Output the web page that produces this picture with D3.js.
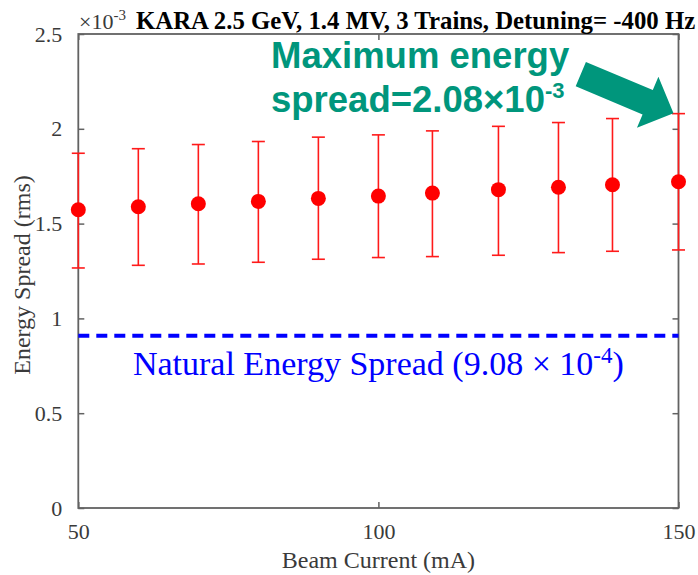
<!DOCTYPE html>
<html>
<head>
<meta charset="utf-8">
<script src="https://cdn.jsdelivr.net/npm/d3@7"></script>
<style>
  html, body { margin: 0; padding: 0; background: #fff; }
  svg { display: block; }
</style>
</head>
<body>
<script>
// Beam current scan (mA) and rms energy spread (units of 1e-3)
const currents   = [50, 60, 70, 80, 90, 100, 109, 120, 130, 139, 150];
const spreadMean = [1.573, 1.589, 1.605, 1.617, 1.633, 1.645, 1.661, 1.679, 1.692, 1.705, 1.721];
const spreadLow  = [1.266, 1.280, 1.287, 1.296, 1.312, 1.321, 1.326, 1.333, 1.347, 1.354, 1.361];
const spreadHigh = [1.871, 1.895, 1.917, 1.933, 1.956, 1.968, 1.989, 2.013, 2.033, 2.054, 2.08];
const naturalSpread = 0.908;
const xTicks = [50, 100, 150];
const yTicks = [0, 0.5, 1, 1.5, 2, 2.5];

const W = 698, H = 575;
const margin = { left: 78.3, right: W - 678.5, top: 34, bottom: H - 508 };

const svg = d3.select("body").append("svg")
  .attr("width", W).attr("height", H);

const x = d3.scaleLinear().domain([50, 150]).range([margin.left, W - margin.right]);
const y = d3.scaleLinear().domain([0, 2.5]).range([H - margin.bottom, margin.top]);

const serif = "'Liberation Serif', 'Times New Roman', serif";
const sans = "'Liberation Sans', Arial, sans-serif";
const axisColor = "#626262";
const labelColor = "#3a3a3a";
const tickLen = 6;

// Axes box with inward ticks on all four sides
const axG = svg.append("g");
function styleAxis(g) {
  g.select(".domain").remove();
  g.selectAll(".tick line").attr("stroke", axisColor).attr("stroke-width", 1.5);
  g.selectAll(".tick text").attr("fill", labelColor)
    .style("font-family", serif).style("font-size", "22px");
}
axG.append("g")
  .attr("transform", `translate(0,${y(0)})`)
  .call(d3.axisBottom(x).tickValues(xTicks).tickSize(-tickLen).tickPadding(15).tickFormat(d3.format("d")))
  .call(styleAxis);
axG.append("g")
  .attr("transform", `translate(0,${y(2.5)})`)
  .call(d3.axisTop(x).tickValues(xTicks).tickSize(-tickLen).tickFormat(""))
  .call(styleAxis);
axG.append("g")
  .attr("transform", `translate(${x(50)},0)`)
  .call(d3.axisLeft(y).tickValues(yTicks).tickSize(-tickLen).tickPadding(16).tickFormat(d => String(d)))
  .call(styleAxis);
axG.append("g")
  .attr("transform", `translate(${x(150)},0)`)
  .call(d3.axisRight(y).tickValues(yTicks).tickSize(-tickLen).tickFormat(""))
  .call(styleAxis);
axG.append("rect")
  .attr("x", x(50)).attr("y", y(2.5))
  .attr("width", x(150) - x(50)).attr("height", y(0) - y(2.5))
  .attr("fill", "none").attr("stroke", axisColor).attr("stroke-width", 1.8);

// Natural energy spread reference line
svg.append("line")
  .attr("x1", x(50)).attr("x2", x(150))
  .attr("y1", y(naturalSpread)).attr("y2", y(naturalSpread))
  .attr("stroke", "#0000ff").attr("stroke-width", 4)
  .attr("stroke-dasharray", "11,7");

const nat = svg.append("text")
  .attr("x", x(100)).attr("y", 375)
  .attr("text-anchor", "middle")
  .attr("fill", "#0000ff")
  .style("font-family", serif).style("font-size", "34px");
nat.append("tspan").text("Natural Energy Spread (9.08 \u00d7 10");
nat.append("tspan").attr("dy", -12).style("font-size", "23px").text("-4");
nat.append("tspan").attr("dy", 12).text(")");

// Error bars
const pts = currents.map((c, i) => ({ c, m: spreadMean[i], lo: spreadLow[i], hi: spreadHigh[i] }));
const capW = 6.5;
const eb = svg.append("g").attr("stroke", "#ff1a1a").attr("stroke-width", 1.6);
eb.selectAll("line.v").data(pts).join("line").attr("class", "v")
  .attr("x1", d => x(d.c)).attr("x2", d => x(d.c))
  .attr("y1", d => y(d.lo)).attr("y2", d => y(d.hi));
eb.selectAll("line.t").data(pts).join("line").attr("class", "t")
  .attr("x1", d => x(d.c) - capW).attr("x2", d => x(d.c) + capW)
  .attr("y1", d => y(d.hi)).attr("y2", d => y(d.hi));
eb.selectAll("line.b").data(pts).join("line").attr("class", "b")
  .attr("x1", d => x(d.c) - capW).attr("x2", d => x(d.c) + capW)
  .attr("y1", d => y(d.lo)).attr("y2", d => y(d.lo));

// Mean markers
svg.append("g").selectAll("circle").data(pts).join("circle")
  .attr("cx", d => x(d.c)).attr("cy", d => y(d.m))
  .attr("r", 7.5).attr("fill", "#ff0000");

// Axis titles
svg.append("text")
  .attr("x", x(100)).attr("y", 568)
  .attr("text-anchor", "middle").attr("fill", labelColor)
  .style("font-family", serif).style("font-size", "24px")
  .text("Beam Current (mA)");
svg.append("text")
  .attr("transform", `translate(30,${(y(0) + y(2.5)) / 2 + 4}) rotate(-90)`)
  .attr("text-anchor", "middle").attr("fill", labelColor)
  .style("font-family", serif).style("font-size", "24px")
  .text("Energy Spread (rms)");

// Exponent and title
const expo = svg.append("text")
  .attr("x", 79).attr("y", 29).attr("fill", labelColor)
  .style("font-family", serif).style("font-size", "22px");
expo.append("tspan").text("\u00d710");
expo.append("tspan").attr("dy", -9).style("font-size", "15px").text("-3");

svg.append("text")
  .attr("x", 136).attr("y", 29).attr("fill", "#000")
  .style("font-family", serif).style("font-size", "24.8px").style("font-weight", "bold")
  .text("KARA 2.5 GeV, 1.4 MV, 3 Trains, Detuning= -400 Hz");

// Annotation
const teal = "#00967c";
const ann = svg.append("text").attr("fill", teal)
  .style("font-family", sans).style("font-size", "36.5px").style("font-weight", "bold");
ann.append("tspan").attr("x", 271).attr("y", 67.5).text("Maximum energy");
const l2 = svg.append("text").attr("x", 271).attr("y", 112).attr("fill", teal)
  .style("font-family", sans).style("font-size", "36.5px").style("font-weight", "bold");
l2.append("tspan").text("spread=2.08\u00d710");
l2.append("tspan").attr("dy", -14).style("font-size", "22px").text("-3");

// Block arrow pointing to the largest upper error bound
const tail = [580.8, 74.2];
const tip = [x(150) - 5, y(spreadHigh[spreadHigh.length - 1]) - 0.5];
const dx = tip[0] - tail[0], dy = tip[1] - tail[1];
const len = Math.hypot(dx, dy);
const ang = Math.atan2(dy, dx) * 180 / Math.PI;
const shaftHW = 13.2, headLen = 28, headHW = 27.7;
const arrowPts = [
  [0, -shaftHW], [len - headLen, -shaftHW], [len - headLen, -headHW],
  [len, 0], [len - headLen, headHW], [len - headLen, shaftHW], [0, shaftHW]
];
svg.append("polygon")
  .attr("transform", `translate(${tail[0]},${tail[1]}) rotate(${ang})`)
  .attr("points", arrowPts.map(p => p.join(",")).join(" "))
  .attr("fill", teal);
</script>
</body>
</html>
